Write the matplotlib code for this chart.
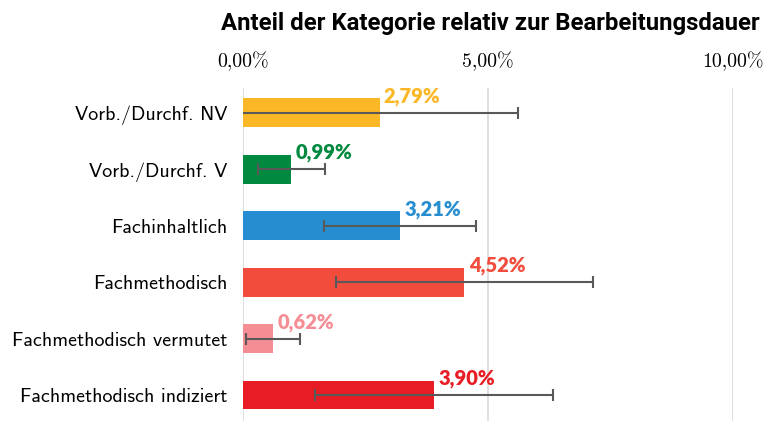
import numpy as np
import matplotlib
matplotlib.use("Agg")
import matplotlib.pyplot as plt
from matplotlib.ticker import FuncFormatter

# Daten aus dem Diagramm
kategorien = ["Vorb./Durchf. NV", "Vorb./Durchf. V", "Fachinhaltlich",
              "Fachmethodisch", "Fachmethodisch vermutet", "Fachmethodisch indiziert"]
anteil = [2.79, 0.99, 3.21, 4.52, 0.62, 3.90]          # in %
fehler = [2.83, 0.69, 1.55, 2.62, 0.55, 2.42]          # Standardabweichung in %
farben = ["#FBB725", "#00893F", "#268ED0", "#F24C3D", "#F48E94", "#E81C24"]

fig = plt.figure(figsize=(7.66, 4.21), dpi=100)
ax = fig.add_axes([0.3172, 0.0, 0.6397, 0.791])

y = np.arange(len(kategorien))
ax.barh(y, anteil, height=0.51, color=farben, zorder=2)
ax.errorbar(anteil, y, xerr=fehler, fmt="none", ecolor="#595959",
            elinewidth=1.5, capsize=4, capthick=1.5, zorder=3)

for yi, wert, farbe in zip(y, anteil, farben):
    ax.annotate(f"{wert:.2f}%".replace(".", ","), xy=(wert, yi - 0.185),
                xytext=(3, 0), textcoords="offset points", ha="left", va="baseline",
                color=farbe, fontsize=14.5, fontweight="heavy", family="Lato")

ax.set_xlim(0, 10)
ax.set_ylim(5.46, -0.44)
ax.set_xticks([0, 5, 10])
ax.xaxis.set_major_formatter(FuncFormatter(lambda v, p: f"{v:.2f}%".replace(".", ",")))
ax.xaxis.tick_top()
ax.tick_params(axis="x", length=0, pad=12, labelsize=14.3)
for lbl in ax.get_xticklabels():
    lbl.set_family("cmr10")
ax.set_yticks(y)
ax.set_yticklabels(kategorien, family="cmss10", fontsize=14.4)
ax.tick_params(axis="y", length=0, pad=11)
ax.grid(axis="x", color="#D9D9D9", linewidth=1.2, zorder=0)
ax.set_axisbelow(True)
for s in ax.spines.values():
    s.set_visible(False)

fig.text(0.640, 0.945, "Anteil der Kategorie relativ zur Bearbeitungsdauer",
         ha="center", va="center", fontsize=17.2, fontweight="bold", family="Roboto")

fig.savefig("out.png", dpi=100)
